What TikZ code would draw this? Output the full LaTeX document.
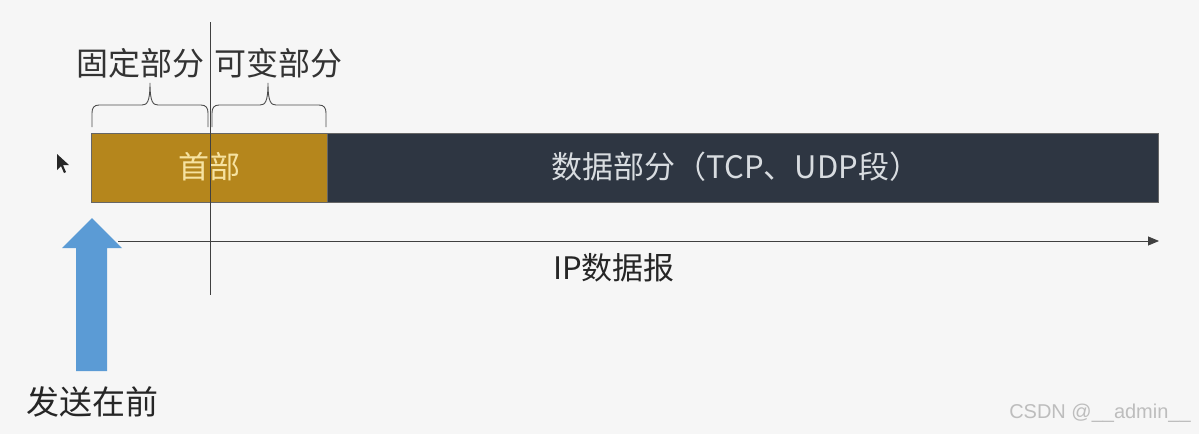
\documentclass[tikz,border=0pt]{standalone}
\usepackage{fontspec}
\newfontfamily\cjk{Noto Sans CJK SC}
\usetikzlibrary{arrows.meta}
\definecolor{bg}{HTML}{F6F6F6}
\definecolor{hdr}{HTML}{B5861C}
\definecolor{hdrtxt}{HTML}{F6E2A0}
\definecolor{datafill}{HTML}{2E3642}
\definecolor{datatxt}{HTML}{D8DCE0}
\definecolor{blue}{HTML}{5B9BD5}
\definecolor{wm}{HTML}{BDBDBD}
\begin{document}
\begin{tikzpicture}[x=1pt,y=-1pt,
  lbl/.style={font=\cjk\fontsize{32}{34}\selectfont, text=black!80, inner sep=0},
  brc/.style={draw=black!70, line width=0.9pt},
  seg/.style={draw=black!60, line width=0.6pt, minimum height=69pt, inner sep=0, anchor=north west}]
\fill[bg] (0,0) rectangle (1199,434);
\useasboundingbox (0,0) rectangle (1199,434);
% boxes
\node[seg, fill=hdr, minimum width=236pt] (hdr) at (91,133) {};
\node[seg, fill=datafill, minimum width=831pt] (data) at (327,133) {};
\node[font=\cjk\fontsize{31}{33}\selectfont, text=hdrtxt] (hdrt) at (209,167) {首部};
\node[font=\cjk\fontsize{31}{33}\selectfont, text=datatxt] (datat) at (736,167) {数据部分（TCP、UDP段）};
% vertical line
\coordinate (vt) at (210,22);
\coordinate (vb) at (210,295);
\draw[black!75, line width=0.8pt] (vt) -- (vb);
% braces
\draw[brc] (92,127) -- (92,113) .. controls (92,108) and (94,105) .. (99,105) -- (142,105)
  .. controls (147,105) and (150,102) .. (150,83)
  .. controls (150,102) and (153,105) .. (158,105) -- (201,105)
  .. controls (206,105) and (208,108) .. (208,113) -- (208,127);
\draw[brc] (212,127) -- (212,113) .. controls (212,108) and (214,105) .. (219,105) -- (260,105)
  .. controls (265,105) and (268,102) .. (268,83)
  .. controls (268,102) and (271,105) .. (276,105) -- (319,105)
  .. controls (324,105) and (326,108) .. (326,113) -- (326,127);
\node[lbl] (fixed) at (140,63) {固定部分};
\node[lbl] (var) at (278,63) {可变部分};
% horizontal arrow
\coordinate (hs) at (118,241);
\coordinate (he) at (1159,241);
\draw[black!75, line width=0.8pt, -{Triangle[length=11pt,width=9pt]}] (hs) -- (he);
\node[font=\cjk\fontsize{31}{33}\selectfont, text=black!85] (ip) at (614,268) {IP数据报};
% blue block arrow
\fill[blue] (92,218) -- (122,248) -- (107,248) -- (107,371) -- (76,371) -- (76,248) -- (62,248) -- cycle;
\node[font=\cjk\fontsize{33}{35}\selectfont, text=black!85] (send) at (92,402) {发送在前};
% mouse cursor
\fill[black!85] (57,154) -- (57,170) -- (61,166) -- (64,173) -- (66,172) -- (63,165) -- (69,165) -- cycle;
% watermark
\node[font=\fontspec{Liberation Sans}\fontsize{20}{22}\selectfont, text=wm] (wmk) at (1100,413) {CSDN @\_\_admin\_\_};
\end{tikzpicture}
\end{document}
